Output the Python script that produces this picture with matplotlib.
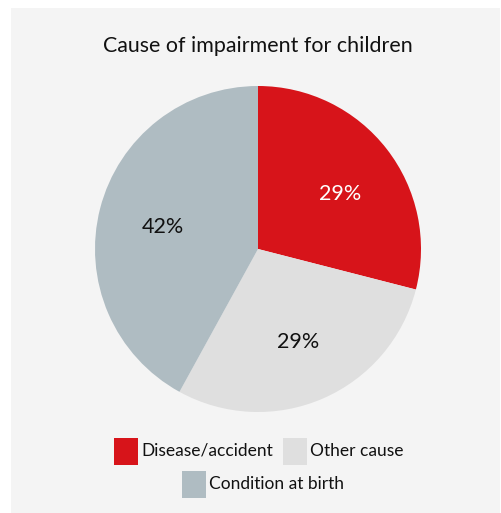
import matplotlib
matplotlib.use("Agg")
import matplotlib.pyplot as plt
from matplotlib.patches import Rectangle

categories = ["Disease/accident", "Other cause", "Condition at birth"]
values = [29, 29, 42]
colors = ["#d7141a", "#dfdfdf", "#afbcc2"]
label_colors = ["white", "#111111", "#111111"]
title = "Cause of impairment for children"

plt.rcParams["font.family"] = ["Lato", "DejaVu Sans"]

W, H = 501, 513
fig = plt.figure(figsize=(W / 100, H / 100), dpi=100)
fig.patch.set_facecolor("white")

# background panel and overlay for title/legend in pixel coordinates
bg = fig.add_axes([0, 0, 1, 1])
bg.set_xlim(0, W)
bg.set_ylim(H, 0)
bg.axis("off")
bg.add_patch(Rectangle((11, 8), 489, 506, facecolor="#f4f4f4", edgecolor="none"))
bg.text(258, 46, title, ha="center", va="center", fontsize=15.4, color="#111111")

# pie
cx, cy, r = 258, 249, 163
ax = fig.add_axes([(cx - r) / W, (H - cy - r) / H, 2 * r / W, 2 * r / H])
ax.set_facecolor("none")
wedges, texts, autotexts = ax.pie(
    values, colors=colors, startangle=90, counterclock=False,
    autopct="%.0f%%", pctdistance=0.6,
    wedgeprops=dict(linewidth=0),
    textprops=dict(fontsize=15.5),
)
# small pixel nudges for the percentage labels (dx right, dy down)
nudges = [(5, 5), (1, 3), (0, 2.5)]
for t, c, (dx, dy) in zip(autotexts, label_colors, nudges):
    t.set_color(c)
    x, y = t.get_position()
    t.set_position((x + dx / r, y - dy / r))
ax.set_xlim(-1, 1)
ax.set_ylim(-1, 1)
ax.set_aspect("equal")

# legend laid out in two centred rows
rows = [[0, 1], [2]]
row_y = [451, 484]
row_cx = [259, 263]
sq_w, sq_h, gap, spacing = 24, 27, 3, 10
fs = 12.5
renderer = fig.canvas.get_renderer()
for ri, row in enumerate(rows):
    widths = []
    for i in row:
        t = bg.text(0, 0, categories[i], fontsize=fs)
        bb = t.get_window_extent(renderer)
        widths.append(bb.width)
        t.remove()
    total = sum(sq_w + gap + w for w in widths) + spacing * (len(row) - 1)
    x = row_cx[ri] - total / 2
    for i, w in zip(row, widths):
        bg.add_patch(Rectangle((x, row_y[ri] - sq_h / 2), sq_w, sq_h,
                               facecolor=colors[i], edgecolor="none"))
        bg.text(x + sq_w + gap, row_y[ri], categories[i], ha="left",
                va="center", fontsize=fs, color="#111111")
        x += sq_w + gap + w + spacing

fig.savefig("out.png", dpi=100, facecolor=fig.get_facecolor())
